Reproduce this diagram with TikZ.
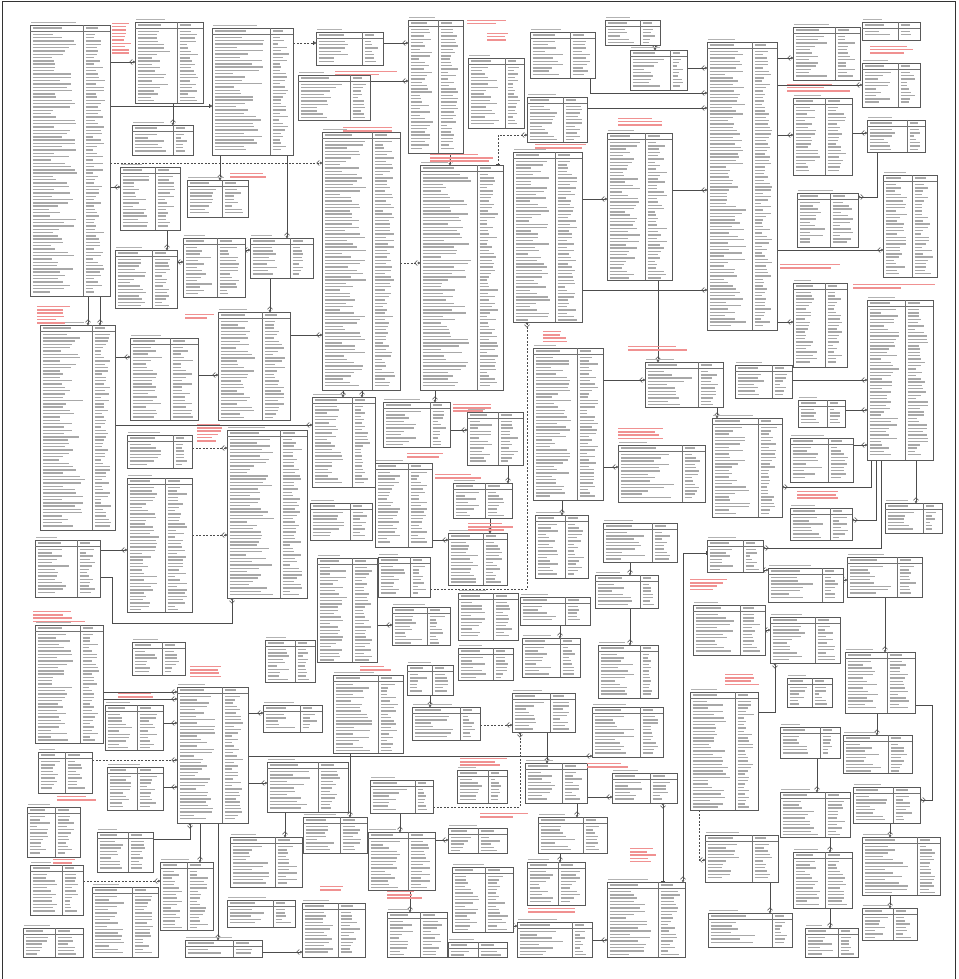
\documentclass[tikz,border=0pt]{standalone}
\usetikzlibrary{arrows.meta}
\pgfdeclarelayer{background}
\pgfsetlayers{background,main}
\definecolor{notered}{RGB}{240,145,145}
\tikzset{
 tbl/.style={draw=black!65,line width=0.6pt,inner sep=0pt,outer sep=0pt,anchor=north west,fill=white},
 sepl/.style={draw=black!55,line width=0.45pt},
 txt/.style={draw=black!34,line width=1.4pt},
 ttl/.style={draw=black!30,line width=1.2pt},
 note/.style={draw=notered,line width=1.4pt},
 rel/.style={draw=black!70,line width=0.55pt},
 cf/.style={{Bar[width=4pt]}-{Straight Barb[reversed,length=2.6pt,width=5pt]Circle[open,length=2.4pt,width=2.4pt]}},
 bb/.style={{Bar[width=4pt]}-{Bar[width=4pt]Circle[open,length=2.4pt,width=2.4pt]}},
 dsh/.style={dash pattern=on 2pt off 1.5pt}
}
\newcommand\ertable[6]{%
  \node[tbl,minimum width={(#4-#2)*1pt},minimum height={(#5-#3)*1pt}] (#1) at (#2,#3) {};%
  \pgfmathsetmacro\tbw{(#4-#2)*(0.3+0.3*rnd)}%
  \draw[ttl] (#2+1,#3-2.8) -- ++(\tbw,0);%
  \draw[txt] (#2+2.5,#3+3) -- ++({(#6-#2)*0.55},0);%
  \draw[txt] (#6+2.5,#3+3) -- ++({(#4-#6)*0.45},0);%
  \draw[sepl] (#2,#3+6) -- (#4,#3+6);%
  \draw[sepl] (#6,#3) -- (#6,#5);%
  \pgfmathsetmacro\ya{#3+9.5}%
  \pgfmathsetmacro\yb{#3+12.8}%
  \pgfmathsetmacro\yc{#5-2}%
  \foreach \yy in {\ya,\yb,...,\yc}{%
    \pgfmathsetmacro\la{(#6-#2-6)*(0.35+0.6*rnd)}%
    \pgfmathsetmacro\lb{(#4-#6-6)*(0.35+0.6*rnd)}%
    \draw[txt] (#2+2.5,\yy) -- ++(\la,0);%
    \draw[txt] (#6+2.5,\yy) -- ++(\lb,0);%
  }%
}
\newcommand\rednote[4]{%
  \pgfmathsetmacro\ra{#2+1.5}\pgfmathsetmacro\rb{#2+4.8}\pgfmathsetmacro\rc{#4}%
  \foreach \yy in {\ra,\rb,...,\rc}{%
    \pgfmathsetmacro\la{(#3-#1)*(0.55+0.45*rnd)}%
    \draw[note] (#1,\yy) -- ++(\la,0);}%
}
\begin{document}
\begin{tikzpicture}[x=1pt,y=-1pt]
\pgfmathsetseed{7}
\useasboundingbox (0,0) rectangle (958,979);
\draw[black!80,line width=1pt] (2,990) -- (2,2) -- (955,2) -- (955,990);
% ---- left area
\ertable{t1}{30}{25}{110}{296}{83}
\ertable{t2}{135}{22}{203}{103}{177}
\ertable{t3}{212}{28}{293}{155}{270}
\ertable{t4}{132}{125}{193}{155}{173}
\ertable{t5}{120}{167}{180}{230}{155}
\ertable{t6}{187}{180}{248}{217}{222}
\ertable{t7}{115}{250}{177}{308}{152}
\ertable{t8}{183}{238}{245}{297}{217}
\ertable{t9}{250}{238}{313}{278}{290}
\ertable{t10}{218}{312}{290}{420}{262}
\ertable{t11}{40}{325}{115}{530}{92}
\ertable{t12}{130}{338}{198}{420}{170}
\ertable{t13}{127}{435}{192}{468}{173}
\ertable{t14}{127}{478}{192}{612}{165}
\ertable{t15}{227}{430}{307}{598}{280}
\ertable{t16}{35}{540}{100}{597}{77}
\ertable{t17}{35}{625}{103}{743}{80}
\ertable{t18}{132}{642}{185}{675}{162}
\ertable{t19}{265}{640}{315}{682}{295}
\ertable{t20}{105}{705}{163}{750}{137}
\ertable{t21}{38}{752}{92}{793}{65}
\ertable{t22}{107}{767}{163}{810}{137}
\ertable{t23}{27}{807}{80}{857}{55}
\ertable{t24}{30}{865}{83}{915}{62}
\ertable{t25}{97}{832}{153}{872}{128}
\ertable{t26}{92}{887}{158}{957}{132}
\ertable{t27}{23}{928}{83}{957}{55}
\ertable{t28}{177}{687}{248}{823}{222}
\ertable{t29}{160}{862}{213}{930}{187}
\ertable{t30}{185}{940}{262}{957}{233}
\ertable{t31}{263}{705}{322}{732}{300}
\ertable{t32}{267}{762}{348}{812}{318}
\ertable{t33}{230}{837}{302}{887}{275}
\ertable{t34}{227}{900}{295}{927}{273}
\ertable{t35}{303}{817}{367}{853}{340}
\ertable{t36}{302}{903}{365}{957}{338}
\ertable{t37}{333}{675}{403}{753}{378}
\ertable{t38}{407}{665}{453}{695}{432}
\ertable{t39}{458}{648}{513}{680}{493}
\ertable{t40}{522}{638}{580}{677}{560}
\ertable{t41}{598}{645}{658}{698}{640}
\ertable{t42}{592}{707}{663}{757}{640}
\ertable{t43}{412}{707}{480}{740}{460}
\ertable{t44}{512}{693}{575}{732}{550}
\ertable{t45}{370}{780}{433}{813}{415}
\ertable{t46}{457}{770}{507}{803}{488}
\ertable{t47}{525}{763}{587}{803}{562}
\ertable{t48}{368}{832}{435}{890}{408}
\ertable{t49}{448}{828}{507}{853}{478}
\ertable{t50}{538}{817}{607}{853}{583}
\ertable{t51}{527}{862}{585}{905}{558}
\ertable{t52}{452}{867}{513}{932}{485}
\ertable{t53}{517}{922}{592}{957}{572}
\ertable{t54}{387}{912}{447}{957}{420}
\ertable{t55}{448}{942}{507}{957}{478}
\ertable{t56}{607}{882}{685}{957}{658}
% ---- top middle / right
\ertable{tA}{316}{32}{383}{65}{362}
\ertable{tB}{298}{75}{370}{120}{350}
\ertable{tC}{408}{20}{463}{153}{438}
\ertable{tD}{468}{58}{524}{128}{505}
\ertable{tE}{530}{32}{595}{78}{570}
\ertable{tF}{527}{97}{587}{142}{563}
\ertable{tG}{322}{132}{400}{390}{372}
\ertable{tH}{420}{165}{503}{390}{477}
\ertable{tI}{513}{152}{582}{322}{555}
\ertable{tJ}{607}{133}{672}{280}{645}
\ertable{tK}{605}{20}{660}{45}{640}
\ertable{tL}{630}{50}{687}{90}{670}
\ertable{tM}{707}{42}{777}{330}{752}
\ertable{tN}{793}{27}{860}{80}{835}
\ertable{tO}{862}{22}{920}{40}{898}
\ertable{tP}{862}{63}{920}{107}{898}
\ertable{tQ}{793}{98}{852}{175}{825}
\ertable{tR}{867}{120}{925}{152}{907}
\ertable{tS}{797}{193}{858}{247}{830}
\ertable{tT}{883}{175}{937}{277}{912}
\ertable{tU}{793}{283}{847}{367}{825}
\ertable{tV}{867}{300}{933}{460}{905}
% ---- middle
\ertable{m1}{312}{397}{375}{487}{352}
\ertable{m2}{383}{402}{450}{447}{430}
\ertable{m3}{467}{412}{523}{465}{498}
\ertable{m4}{375}{463}{432}{547}{408}
\ertable{m5}{453}{483}{512}{518}{485}
\ertable{m6}{448}{533}{507}{585}{483}
\ertable{m7}{310}{503}{372}{540}{350}
\ertable{m8}{317}{558}{377}{662}{352}
\ertable{m9}{378}{557}{430}{597}{410}
\ertable{m10}{392}{607}{450}{645}{427}
\ertable{m11}{458}{593}{518}{640}{493}
\ertable{m12}{520}{597}{590}{625}{565}
\ertable{m13}{533}{348}{603}{500}{577}
\ertable{m14}{535}{515}{588}{578}{565}
\ertable{m15}{603}{523}{677}{562}{652}
\ertable{m16}{595}{575}{658}{608}{640}
% ---- right
\ertable{r1}{645}{362}{723}{407}{698}
\ertable{r2}{735}{365}{792}{398}{772}
\ertable{r3}{798}{400}{845}{427}{827}
\ertable{r4}{790}{438}{853}{482}{828}
\ertable{r5}{712}{418}{782}{517}{758}
\ertable{r6}{618}{445}{705}{502}{682}
\ertable{r7}{790}{508}{852}{540}{830}
\ertable{r8}{885}{503}{942}{533}{923}
\ertable{r9}{707}{540}{763}{572}{743}
\ertable{r10}{768}{568}{843}{602}{822}
\ertable{r11}{847}{557}{922}{597}{897}
\ertable{r12}{693}{605}{765}{655}{740}
\ertable{r13}{770}{617}{840}{663}{815}
\ertable{r14}{845}{652}{915}{713}{887}
\ertable{r15}{787}{678}{832}{707}{812}
\ertable{r16}{690}{692}{758}{810}{735}
\ertable{r17}{780}{727}{840}{758}{820}
\ertable{r18}{843}{735}{912}{773}{888}
\ertable{r19}{780}{792}{850}{837}{825}
\ertable{r20}{853}{787}{920}{823}{893}
\ertable{r21}{705}{835}{778}{882}{752}
\ertable{r22}{862}{837}{940}{895}{917}
\ertable{r23}{793}{852}{852}{908}{825}
\ertable{r24}{708}{913}{792}{947}{772}
\ertable{r25}{862}{908}{917}{940}{893}
\ertable{r26}{805}{928}{858}{957}{838}
\ertable{r27}{612}{773}{677}{803}{650}
% ---- red notes
\rednote{112}{22}{133}{55}
\rednote{37}{305}{70}{325}
\rednote{185}{313}{217}{320}
\rednote{230}{172}{283}{178}
\rednote{335}{70}{397}{75}
\rednote{487}{32}{520}{43}
\rednote{467}{19}{520}{25}
\rednote{535}{143}{592}{148}
\rednote{343}{126}{398}{131}
\rednote{430}{153}{493}{163}
\rednote{618}{117}{680}{128}
\rednote{870}{45}{918}{55}
\rednote{787}{83}{850}{92}
\rednote{780}{263}{855}{270}
\rednote{853}{283}{937}{290}
\rednote{197}{423}{223}{443}
\rednote{33}{610}{87}{622}
\rednote{453}{403}{507}{412}
\rednote{407}{452}{447}{457}
\rednote{435}{473}{493}{478}
\rednote{468}{522}{517}{532}
\rednote{543}{330}{573}{343}
\rednote{628}{345}{687}{353}
\rednote{618}{427}{672}{440}
\rednote{797}{490}{843}{500}
\rednote{690}{578}{728}{590}
\rednote{725}{673}{765}{685}
\rednote{630}{847}{660}{863}
\rednote{360}{665}{392}{672}
\rednote{460}{757}{513}{767}
\rednote{480}{812}{530}{817}
\rednote{587}{762}{630}{768}
\rednote{387}{890}{427}{900}
\rednote{528}{907}{590}{913}
\rednote{320}{885}{347}{892}
\rednote{190}{665}{230}{677}
\rednote{118}{692}{173}{700}
\rednote{57}{795}{100}{802}
\rednote{53}{858}{83}{863}
% ---- connectors
\begin{pgfonlayer}{background}
\draw[rel,cf] (t1.east |- 0,62) -- (t2.west |- 0,62);
\draw[rel,cf] (t1.east |- 0,187) -- (t5.west |- 0,187);
\draw[rel,bb] (t1.east |- 0,106) -- (t3.west |- 0,106);
\draw[rel,bb,dsh] (t3.east |- 0,43) -- (tA.west |- 0,43);
\draw[rel,cf] (t2.south -| 173,0) -- (t4.north -| 173,0);
\draw[rel,cf] (t3.south -| 287,0) -- (t9.north -| 287,0);
\draw[rel,cf] (t9.south -| 270,0) -- (t10.north -| 270,0);
\draw[rel,cf,dsh] (t1.east |- 0,163) -- (tG.west |- 0,163);
\draw[rel,cf] (t5.south -| 167,0) -- (t7.north -| 167,0);
\draw[rel,cf] (t7.east |- 0,262) -- (t8.west |- 0,262);
\draw[rel,cf] (t3.south -| 220,0) -- (t6.north -| 220,0);
\draw[rel,cf] (t8.east |- 0,250) -- (t9.west |- 0,250);
\draw[rel,cf] (tA.east |- 0,43) -- (tC.west |- 0,43);
\draw[rel,cf] (tB.east |- 0,81) -- (tC.west |- 0,81);
\draw[rel,cf] (tC.south -| 450,0) -- (tH.north -| 450,0);
\draw[rel,cf,dsh] (tH.north -| 498,0) |- (tF.west |- 0,135);
\draw[rel,cf] (tE.south -| 590,0) |- (tM.west |- 0,93);
\draw[rel,cf] (tF.east |- 0,108) -- (tM.west |- 0,108);
\draw[rel,cf,dsh] (tG.east |- 0,263) -- (tH.west |- 0,263);
\draw[rel,cf] (tI.east |- 0,199) -- (tJ.west |- 0,199);
\draw[rel,cf] (tI.east |- 0,290) -- (tM.west |- 0,290);
\draw[rel,cf] (tJ.east |- 0,190) -- (tM.west |- 0,190);
\draw[rel,cf] (tJ.south -| 658,0) -- (r1.north -| 658,0);
\draw[rel,cf] (tM.east |- 0,58) -- (tN.west |- 0,58);
\draw[rel,cf] (tM.east |- 0,85) -- (tP.west |- 0,85);
\draw[rel,cf] (tM.east |- 0,135) -- (tQ.west |- 0,135);
\draw[rel,cf] (tQ.east |- 0,133) -- (tR.west |- 0,133);
\draw[rel,cf] (tR.south -| 877,0) |- (tS.east |- 0,197);
\draw[rel,cf] (tM.east |- 0,250) -- (tT.west |- 0,250);
\draw[rel,cf] (tM.east |- 0,322) -- (tU.west |- 0,322);
\draw[rel,cf] (tL.east |- 0,68) -- (tM.west |- 0,68);
\draw[rel,cf] (tK.south -| 655,0) -- (tL.north -| 655,0);
\draw[rel,cf] (t11.east |- 0,357) -- (t12.west |- 0,357);
\draw[rel,cf] (t12.east |- 0,375) -- (t10.west |- 0,375);
\draw[rel,cf,dsh] (t13.east |- 0,448) -- (t15.west |- 0,448);
\draw[rel,cf,dsh] (t14.east |- 0,535) -- (t15.west |- 0,535);
\draw[rel,cf] (t16.east |- 0,550) -- (t14.west |- 0,550);
\draw[rel,cf] (t16.east |- 0,577) -| (112,623) -| (t15.south -| 232,0);
\draw[rel,cf] (t11.east |- 0,425) -- (m1.west |- 0,425);
\draw[rel,cf] (tG.south -| 343,0) -- (m1.north -| 343,0);
\draw[rel,cf] (tG.south -| 362,0) -- (m1.north -| 362,0);
\draw[rel,cf] (tH.south -| 435,0) -- (m2.north -| 435,0);
\draw[rel,cf] (m3.south -| 508,0) -- (m5.north -| 508,0);
\draw[rel,cf] (m4.east |- 0,540) -- (m6.west |- 0,540);
\draw[rel,cf,dsh] (m9.east |- 0,589) -| (tI.south -| 527,0);
\draw[rel,cf] (m13.south -| 562,0) -- (m14.north -| 562,0);
\draw[rel,cf] (m13.east |- 0,380) -- (r1.west |- 0,380);
\draw[rel,cf] (m13.east |- 0,467) -- (r6.west |- 0,467);
\draw[rel,cf] (r1.south -| 717,0) -- (r5.north -| 717,0);
\draw[rel,cf] (r2.east |- 0,380) -- (tV.west |- 0,380);
\draw[rel,cf] (r3.east |- 0,410) -- (tV.west |- 0,410);
\draw[rel,cf] (r4.east |- 0,445) -- (tV.west |- 0,445);
\draw[rel,cf] (tV.south -| 871,0) |- (r5.east |- 0,487);
\draw[rel,cf] (tV.south -| 916,0) -- (r8.north -| 916,0);
\draw[rel,cf] (tV.south -| 876,0) |- (r7.east |- 0,520);
\draw[rel,cf] (tV.south -| 881,0) |- (r9.east |- 0,548);
\draw[rel,cf] (r9.west |- 0,553) -| (t56.north -| 683,0);
\draw[rel,cf] (r11.south -| 885,0) -- (r14.north -| 885,0);
\draw[rel,cf,dsh] (r16.south -| 699,0) |- (r21.west |- 0,860);
\draw[rel,cf] (r21.south -| 770,0) -- (r24.north -| 770,0);
\draw[rel,cf] (r17.south -| 817,0) -- (r19.north -| 817,0);
\draw[rel,cf] (r14.east |- 0,705) -| (932,800) -- (r20.east |- 0,800);
\draw[rel,cf] (r14.south -| 877,0) -- (r18.north -| 877,0);
\draw[rel,cf] (t56.north -| 663,0) -- (r27.south -| 663,0);
\draw[rel,cf] (r16.east |- 0,712) -| (r13.south -| 775,0);
\draw[rel,cf] (r12.east |- 0,630) -- (r13.west |- 0,630);
\draw[rel,cf] (r10.east |- 0,580) -- (r11.west |- 0,580);
\draw[rel,cf] (r9.east |- 0,570) -- (r10.west |- 0,570);
\draw[rel,cf] (r19.south -| 830,0) -- (r23.north -| 830,0);
\draw[rel,cf] (r20.south -| 890,0) -- (r22.north -| 890,0);
\draw[rel,cf] (r22.south -| 890,0) -- (r25.north -| 890,0);
\draw[rel,cf] (r23.south -| 830,0) -- (r26.north -| 830,0);
\draw[rel,cf] (t17.east |- 0,692) -- (t28.west |- 0,692);
\draw[rel,cf] (t17.east |- 0,699) -- (t28.west |- 0,699);
\draw[rel,cf] (t20.east |- 0,723) -- (t28.west |- 0,723);
\draw[rel,cf,dsh] (t21.east |- 0,760) -- (t28.west |- 0,760);
\draw[rel,cf] (t22.east |- 0,787) -- (t28.west |- 0,787);
\draw[rel,cf] (t25.east |- 0,839) -| (t28.south -| 190,0);
\draw[rel,cf] (t28.south -| 200,0) -- (t29.north -| 200,0);
\draw[rel,cf] (t28.south -| 218,0) -- (t30.north -| 218,0);
\draw[rel,cf,dsh] (t24.east |- 0,881) -- (t29.west |- 0,881);
\draw[rel,cf] (t28.east |- 0,713) -- (t31.west |- 0,713);
\draw[rel,cf] (t28.east |- 0,783) -- (t32.west |- 0,783);
\draw[rel,cf] (t28.east |- 0,756) -- (t42.west |- 0,756);
\draw[rel,cf] (t32.south -| 285,0) -- (t33.north -| 285,0);
\draw[rel,cf] (t30.east |- 0,952) -- (t36.west |- 0,952);
\draw[rel,cf] (t37.south -| 350,0) -- (t35.north -| 350,0);
\draw[rel,cf,dsh] (t43.east |- 0,725) -- (t44.west |- 0,725);
\draw[rel,cf] (t44.south -| 547,0) -- (t47.north -| 547,0);
\draw[rel,cf,dsh] (t45.east |- 0,807) -| (t44.south -| 520,0);
\draw[rel,cf] (t47.south -| 577,0) -- (t50.north -| 577,0);
\draw[rel,cf] (t47.east |- 0,797) -- (r27.west |- 0,797);
\draw[rel,cf] (t38.south -| 430,0) -- (t43.north -| 430,0);
\draw[rel,cf] (t48.east |- 0,840) -- (t49.west |- 0,840);
\draw[rel,cf] (m12.south -| 560,0) -- (t40.north -| 560,0);
\draw[rel,cf] (m15.south -| 630,0) -- (m16.north -| 630,0);
\draw[rel,cf] (m16.south -| 630,0) -- (t41.north -| 630,0);
\draw[rel,cf] (m8.east |- 0,625) -- (m10.west |- 0,625);
\draw[rel,cf] (m2.east |- 0,430) -- (m3.west |- 0,430);
\draw[rel,cf] (m5.south -| 490,0) -- (m6.north -| 490,0);
\draw[rel,cf] (t10.east |- 0,335) -- (tG.west |- 0,335);
\draw[rel,cf] (t1.south -| 88,0) -- (t11.north -| 88,0);
\draw[rel,cf] (t1.south -| 100,0) -- (t11.north -| 100,0);
\draw[rel,cf] (t53.east |- 0,940) -- (t56.west |- 0,940);
\draw[rel,cf] (t52.east |- 0,926) -- (t53.west |- 0,926);
\draw[rel,cf] (t50.south -| 560,0) -- (t51.north -| 560,0);
\draw[rel,cf] (t48.south -| 410,0) -- (t54.north -| 410,0);
\draw[rel,cf] (t45.south -| 400,0) -- (t48.north -| 400,0);
\end{pgfonlayer}
\end{tikzpicture}
\end{document}
